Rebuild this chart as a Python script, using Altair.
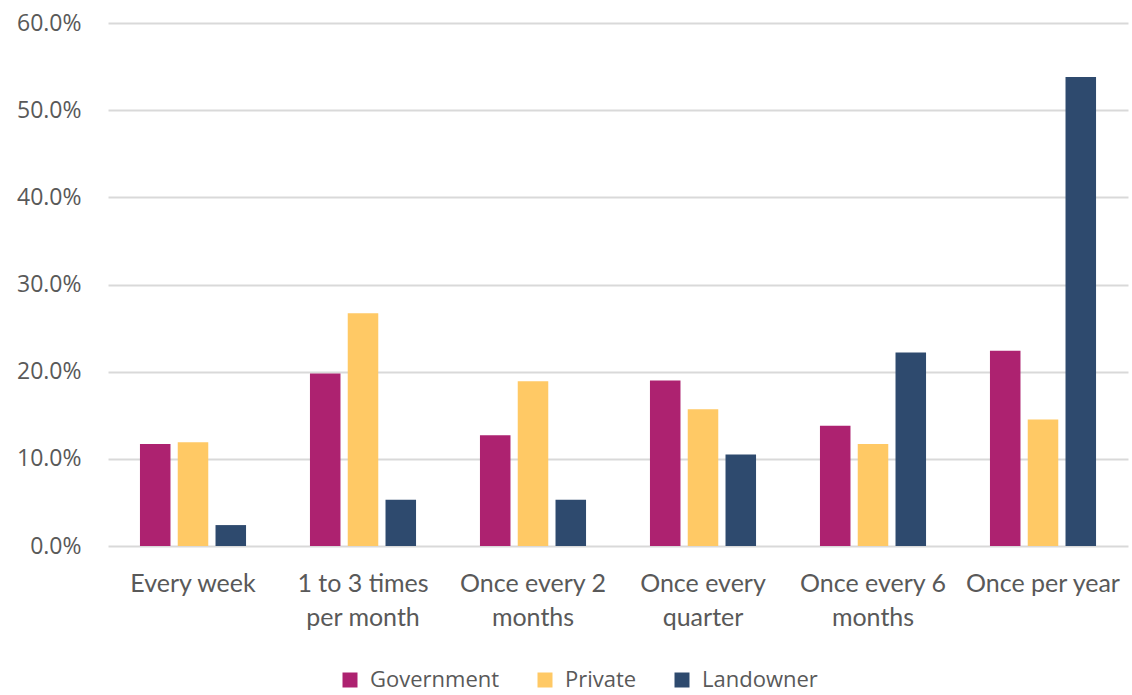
import json
import altair as alt
import pandas as pd

# Survey: how often each stakeholder group is engaged
categories = [
    "Every week",
    "1 to 3 times per month",
    "Once every 2 months",
    "Once every quarter",
    "Once every 6 months",
    "Once per year",
]
# Axis labels broken over two lines
category_lines = {
    "Every week": ["Every week"],
    "1 to 3 times per month": ["1 to 3 times", "per month"],
    "Once every 2 months": ["Once every 2", "months"],
    "Once every quarter": ["Once every", "quarter"],
    "Once every 6 months": ["Once every 6", "months"],
    "Once per year": ["Once per year"],
}
groups = ["Government", "Private", "Landowner"]
government = [0.117, 0.198, 0.127, 0.190, 0.138, 0.224]
private = [0.119, 0.267, 0.189, 0.157, 0.117, 0.145]
landowner = [0.024, 0.053, 0.053, 0.105, 0.222, 0.538]
colors = ["#AD2270", "#FFC965", "#2E4A6E"]

rows = []
for series_name, values in zip(groups, [government, private, landowner]):
    for cat, v in zip(categories, values):
        rows.append({"category": cat, "group": series_name, "share": v})
df = pd.DataFrame(rows)

label_expr = json.dumps(category_lines) + "[datum.value]"

chart = (
    alt.Chart(df)
    .mark_bar()
    .encode(
        x=alt.X(
            "category:N",
            sort=categories,
            title=None,
            scale=alt.Scale(paddingInner=0.376, paddingOuter=0.188),
            axis=alt.Axis(
                labelExpr=label_expr,
                labelAngle=0,
                labelFont="Lato",
                labelFontSize=25,
                labelColor="#595959",
                labelPadding=25,
                labelLineHeight=34,
                labelBaseline="top",
                ticks=False,
                domain=False,
                grid=False,
            ),
        ),
        xOffset=alt.XOffset(
            "group:N", sort=groups, scale=alt.Scale(paddingInner=0.192, paddingOuter=0)
        ),
        y=alt.Y(
            "share:Q",
            title=None,
            scale=alt.Scale(domain=[0, 0.6], nice=False),
            axis=alt.Axis(
                format=".1%",
                values=[0, 0.1, 0.2, 0.3, 0.4, 0.5, 0.6],
                labelFont="Open Sans",
                labelFontSize=23,
                labelColor="#595959",
                labelPadding=27,
                ticks=False,
                domain=False,
                gridColor="#d9d9d9",
                gridWidth=2,
            ),
        ),
        color=alt.Color(
            "group:N",
            sort=groups,
            scale=alt.Scale(domain=groups, range=colors),
            legend=alt.Legend(
                title=None,
                orient="none",
                direction="horizontal",
                legendX=231,
                legendY=646,
                symbolType="square",
                symbolSize=225,
                symbolStrokeWidth=0,
                labelFont="Open Sans",
                labelFontSize=22,
                labelColor="#595959",
                labelOffset=9,
                columnPadding=34,
            ),
        ),
    )
    .properties(
        width=1020,
        height=523,
        padding={"left": 108, "top": 23, "right": 4, "bottom": 149},
        autosize=alt.AutoSizeParams(type="none"),
    )
    .configure(background="white")
    .configure_view(strokeWidth=0, stroke="transparent")
)

chart.save("out.html", embed_options={"renderer": "svg", "actions": False})
